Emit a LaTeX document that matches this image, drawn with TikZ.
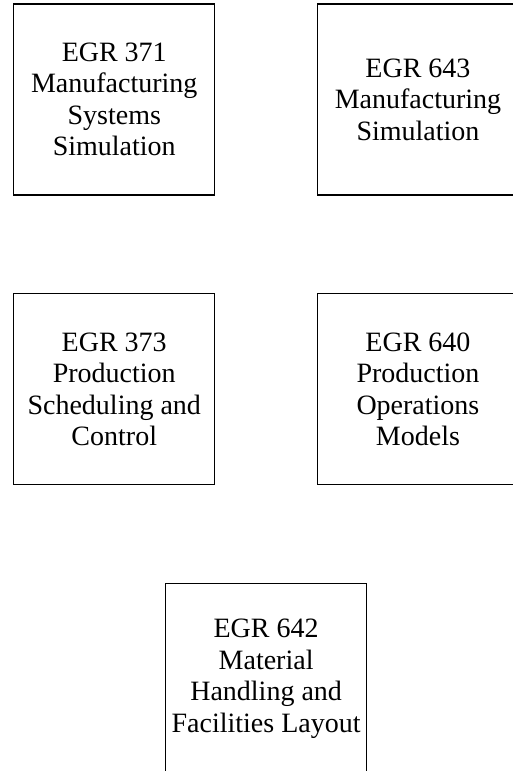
\documentclass[tikz,border=0pt]{standalone}
\usepackage{fontspec}
\setmainfont{Liberation Serif}
\usepackage{tikz}
\usetikzlibrary{positioning, calc}

\tikzset{course/.style={draw, rectangle, line width=1.2pt, minimum width=201pt, minimum height=191pt, inner sep=2pt, align=center, font=\fontsize{28}{31.5}\selectfont}}

\begin{document}
\begin{tikzpicture}[node distance={97.5pt and 101.5pt}]
        \useasboundingbox (0,0) rectangle (513pt,-771pt);
        \node[course] (b371) at (114.25pt,-99.5pt) {EGR 371\\Manufacturing\\Systems\\Simulation};
        \node[course] (b643) [right=of b371] {EGR 643\\Manufacturing\\Simulation};
        \node[course] (b373) [below=of b371] {EGR 373\\Production\\Scheduling and\\Control};
        \node[course] (b640) [below=of b643] {EGR 640\\Production\\Operations\\Models};
        \node[course] (b642) [below=of $(b373.south east)!0.5!(b640.south west)$] {EGR 642\\Material\\Handling and\\Facilities Layout};
    \end{tikzpicture}
\end{document}
